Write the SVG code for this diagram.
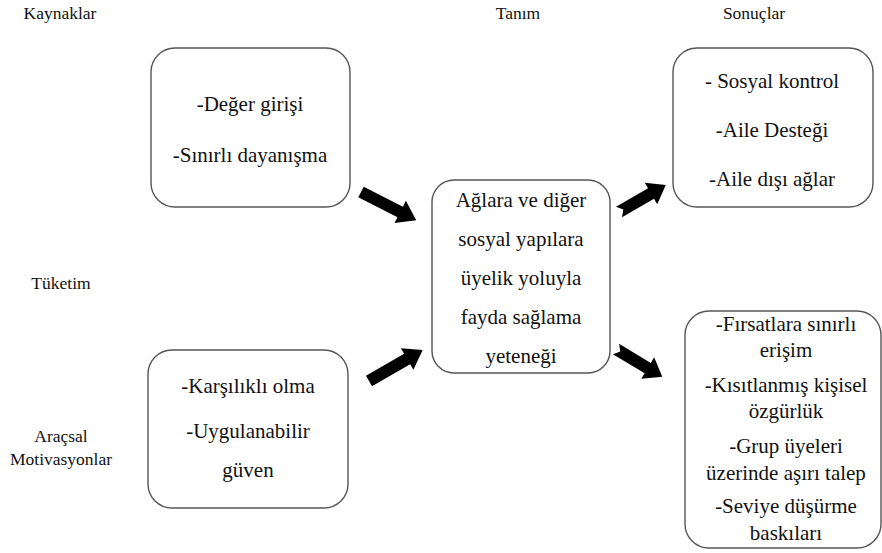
<svg xmlns="http://www.w3.org/2000/svg" width="882" height="553" viewBox="0 0 882 553">
<style>
.box{fill:#fff;stroke:#555;stroke-width:1.4}
text{font-family:'Liberation Serif','Times New Roman',Times,serif;fill:#111;text-anchor:middle}
.t{font-size:21px}
.lbl{font-size:17.5px}
.arr{fill:#000}
</style>
<defs>
<path id="arrL" d="M0,-6 L44,-6 L44,-12.5 L62,0 L44,12.5 L44,6 L0,6 Z"/>
<path id="arrR" d="M0,-6 L37,-6 L37,-12.5 L54,0 L37,12.5 L37,6 L0,6 L5,0 Z"/>
</defs>
<rect width="882" height="553" fill="#fff"/>
<g id="labels">
<text class="lbl" x="60" y="19">Kaynaklar</text>
<text class="lbl" x="518" y="19">Tanım</text>
<text class="lbl" x="754" y="19">Sonuçlar</text>
<text class="lbl" x="61" y="289">Tüketim</text>
<text class="lbl" x="61" y="442">Araçsal</text>
<text class="lbl" x="61" y="465">Motivasyonlar</text>
</g>
<g id="kaynaklar">
<rect class="box" x="151" y="48" width="199" height="159" rx="24"/>
<text class="t" x="250" y="111">-Değer girişi</text>
<text class="t" x="250" y="162">-Sınırlı dayanışma</text>
</g>
<g id="araclar">
<rect class="box" x="148" y="350" width="200" height="158" rx="24"/>
<text class="t" x="248" y="393">-Karşılıklı olma</text>
<text class="t" x="248" y="438">-Uygulanabilir</text>
<text class="t" x="248" y="477">güven</text>
</g>
<g id="tanim">
<rect class="box" x="432" y="180" width="178" height="193" rx="22"/>
<text class="t" x="521" y="207">Ağlara ve diğer</text>
<text class="t" x="521" y="246">sosyal yapılara</text>
<text class="t" x="521" y="285">üyelik yoluyla</text>
<text class="t" x="521" y="324">fayda sağlama</text>
<text class="t" x="521" y="363">yeteneği</text>
</g>
<g id="sonuc1">
<rect class="box" x="673" y="48" width="200" height="159" rx="24"/>
<text class="t" x="772" y="88">- Sosyal kontrol</text>
<text class="t" x="772" y="137">-Aile Desteği</text>
<text class="t" x="772" y="186">-Aile dışı ağlar</text>
</g>
<g id="sonuc2">
<rect class="box" x="685" y="311" width="196" height="237" rx="24"/>
<text class="t" x="786" y="331">-Fırsatlara sınırlı</text>
<text class="t" x="786" y="357">erişim</text>
<text class="t" x="786" y="392">-Kısıtlanmış kişisel</text>
<text class="t" x="786" y="418">özgürlük</text>
<text class="t" x="786" y="453">-Grup üyeleri</text>
<text class="t" x="786" y="480">üzerinde aşırı talep</text>
<text class="t" x="786" y="513">-Seviye düşürme</text>
<text class="t" x="786" y="540">baskıları</text>
</g>
<g id="connectors">
<use href="#arrL" class="arr" transform="translate(361,192) rotate(27)"/>
<use href="#arrL" class="arr" transform="translate(369,381) rotate(-30)"/>
<use href="#arrR" class="arr" transform="translate(619,212) rotate(-30)"/>
<use href="#arrR" class="arr" transform="translate(616,349) rotate(31)"/>
</g>
</svg>
